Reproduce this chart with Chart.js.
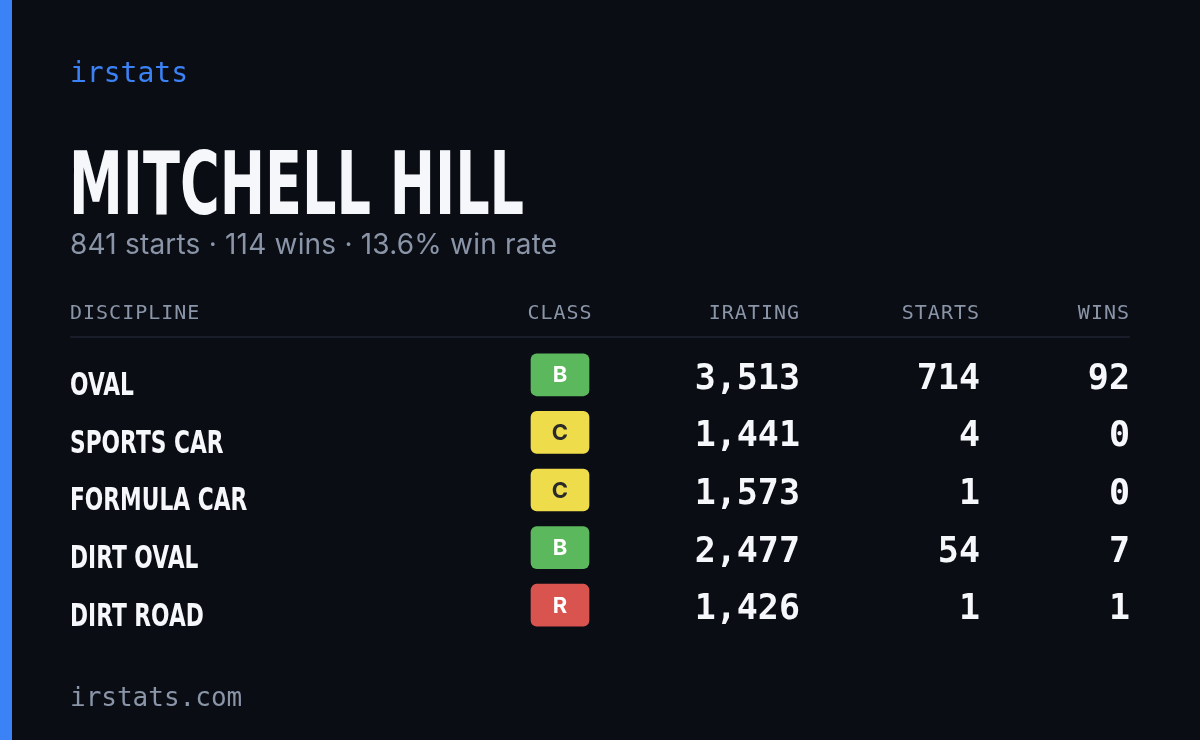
<!DOCTYPE html>
<html>
<head>
<meta charset="utf-8">
<script src="https://cdn.jsdelivr.net/npm/chart.js@4"></script>
<style>
  html, body { margin: 0; padding: 0; background: #0a0d14; }
  #card { position: relative; width: 1200px; height: 740px; background: #0a0d14; overflow: hidden; }
  #stripe { position: absolute; left: 0; top: 0; width: 12px; height: 740px; background: #3b82f6; }
  #brand { position: absolute; left: 70px; top: 56px; font: 28px "DejaVu Sans Mono", monospace; color: #3b82f6; }
  #name { position: absolute; left: 69px; top: 132px; font: bold 88px "DejaVu Sans", sans-serif; color: #f5f7fb; transform: scaleX(0.615); transform-origin: left top; white-space: nowrap; }
  #sub { position: absolute; left: 70px; top: 227px; font: 28px Inter, sans-serif; color: #8b95a8; letter-spacing: 0.2px; }
  #foot { position: absolute; left: 70px; top: 682px; font: 26px "DejaVu Sans Mono", monospace; color: #8b95a8; }
  #chartBox { position: absolute; left: 0; top: 0; width: 1200px; height: 740px; }
</style>
</head>
<body>
<div id="card">
  <div id="chartBox"><canvas id="tableChart" width="1200" height="740"></canvas></div>
  <div id="stripe"></div>
  <div id="brand">irstats</div>
  <div id="name">MITCHELL HILL</div>
  <div id="sub">841 starts · 114 wins · 13.6% win rate</div>
  <div id="foot">irstats.com</div>
</div>
<script>
const disciplines = ["OVAL", "SPORTS CAR", "FORMULA CAR", "DIRT OVAL", "DIRT ROAD"];
const classes = ["B", "C", "C", "B", "R"];
const iratings = [3513, 1441, 1573, 2477, 1426];
const starts = [714, 4, 1, 54, 1];
const wins = [92, 0, 0, 7, 1];
const headers = ["DISCIPLINE", "CLASS", "IRATING", "STARTS", "WINS"];

const classColors = { B: "#5cb85c", C: "#eedc4a", R: "#d9534f" };
const classText = { B: "#ffffff", C: "#2a2a2a", R: "#ffffff" };

// x scale runs 0..1200 so column anchors sit on it
const colX = { discipline: 70, classLeft: 531, classRight: 589, irating: 800, starts: 980, wins: 1130 };

const fmt = n => n.toLocaleString("en-US");

const tablePlugin = {
    id: "tableText",
    afterDatasetsDraw(chart) {
        const ctx = chart.ctx;
        const x = chart.scales.x;
        const y = chart.scales.y;
        ctx.save();

        // header row
        const headY = 314;
        ctx.font = "20px 'DejaVu Sans Mono', monospace";
        ctx.fillStyle = "#8b95a8";
        ctx.textBaseline = "middle";
        if ("letterSpacing" in ctx) ctx.letterSpacing = "1px";
        ctx.textAlign = "left";
        ctx.fillText(headers[0], x.getPixelForValue(colX.discipline), headY);
        ctx.textAlign = "center";
        ctx.fillText(headers[1], x.getPixelForValue((colX.classLeft + colX.classRight) / 2), headY);
        ctx.textAlign = "right";
        ctx.fillText(headers[2], x.getPixelForValue(colX.irating), headY);
        ctx.fillText(headers[3], x.getPixelForValue(colX.starts), headY);
        ctx.fillText(headers[4], x.getPixelForValue(colX.wins), headY);
        if ("letterSpacing" in ctx) ctx.letterSpacing = "0px";

        ctx.strokeStyle = "#1e2330";
        ctx.lineWidth = 1.5;
        ctx.beginPath();
        ctx.moveTo(x.getPixelForValue(70), 337);
        ctx.lineTo(x.getPixelForValue(1130), 337);
        ctx.stroke();

        disciplines.forEach((d, i) => {
            const py = y.getPixelForValue(i);
            // condensed discipline name
            ctx.save();
            ctx.fillStyle = "#f5f7fb";
            ctx.textAlign = "left";
            ctx.font = "bold 32px 'DejaVu Sans', sans-serif";
            ctx.translate(x.getPixelForValue(colX.discipline), py + 12);
            ctx.scale(0.68, 1);
            ctx.fillText(d, 0, 0);
            ctx.restore();

            ctx.textAlign = "center";
            ctx.font = "bold 22px Inter, sans-serif";
            ctx.fillStyle = classText[classes[i]];
            ctx.fillText(classes[i], x.getPixelForValue((colX.classLeft + colX.classRight) / 2), py + 1);

            ctx.textAlign = "right";
            ctx.fillStyle = "#f5f7fb";
            ctx.font = "bold 35px 'DejaVu Sans Mono', monospace";
            ctx.fillText(fmt(iratings[i]), x.getPixelForValue(colX.irating), py + 5);
            ctx.fillText(fmt(starts[i]), x.getPixelForValue(colX.starts), py + 5);
            ctx.fillText(fmt(wins[i]), x.getPixelForValue(colX.wins), py + 5);
        });
        ctx.restore();
    }
};

new Chart(document.getElementById("tableChart").getContext("2d"), {
    type: "bar",
    data: {
        labels: disciplines,
        datasets: [{
            label: "Class",
            data: classes.map(() => [colX.classLeft, colX.classRight]),
            backgroundColor: classes.map(c => classColors[c]),
            borderRadius: 6,
            borderSkipped: false,
            barThickness: 42
        }]
    },
    options: {
        indexAxis: "y",
        responsive: false,
        animation: false,
        devicePixelRatio: 1,
        layout: { padding: { left: 0, right: 0, top: 346, bottom: 106 } },
        scales: {
            x: { type: "linear", min: 0, max: 1200, display: false },
            y: { type: "category", offset: true, display: false }
        },
        plugins: { legend: { display: false }, tooltip: { enabled: false } }
    },
    plugins: [tablePlugin]
});
</script>
</body>
</html>
